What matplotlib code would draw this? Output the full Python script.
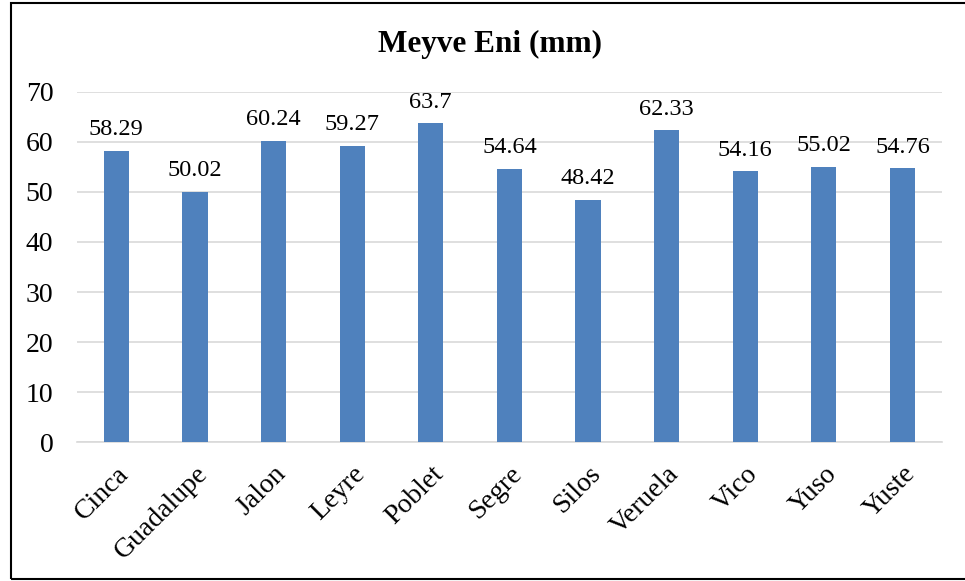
import matplotlib.pyplot as plt
import numpy as np
from matplotlib.patches import Rectangle

plt.rcParams["font.family"] = ["Liberation Serif", "DejaVu Serif"]

categories = ["Cinca", "Guadalupe", "Jalon", "Leyre", "Poblet", "Segre",
              "Silos", "Veruela", "Vico", "Yuso", "Yuste"]
values = [58.29, 50.02, 60.24, 59.27, 63.7, 54.64, 48.42, 62.33, 54.16, 55.02, 54.76]
labels = ["58.29", "50.02", "60.24", "59.27", "63.7", "54.64",
          "48.42", "62.33", "54.16", "55.02", "54.76"]

fig = plt.figure(figsize=(9.65, 5.81), dpi=100)
ax = fig.add_axes([0.0798, 0.2392, 0.8962, 0.6025])

x = np.arange(len(categories))
ax.bar(x, values, width=0.32, color="#4F81BD", zorder=3)
for xi, v, lab in zip(x, values, labels):
    ax.annotate(lab, (xi, v), xytext=(0, 7.5), textcoords="offset points",
                ha="center", va="bottom", fontsize=17.5)

ax.set_xlim(-0.5, len(categories) - 0.5)
ax.set_ylim(0, 70)
ax.set_yticks(np.arange(0, 71, 10))
ax.yaxis.grid(True, color="#D9D9D9", linewidth=1.2, zorder=0)
ax.set_xticks(x)
ax.set_xticklabels(categories, rotation=45, ha="right", rotation_mode="anchor")
ax.tick_params(axis="both", length=0, labelsize=20)
ax.tick_params(axis="x", pad=14)
ax.tick_params(axis="y", pad=17)
for s in ["top", "right", "left"]:
    ax.spines[s].set_visible(False)
ax.spines["bottom"].set_color("#D9D9D9")
ax.spines["bottom"].set_linewidth(1.2)

fig.text(0.508, 0.924, "Meyve Eni (mm)", ha="center", va="center",
         fontsize=22.5, fontweight="bold")

fig.patches.append(Rectangle((0.011, 0.004), 1.2, 0.99, transform=fig.transFigure,
                             fill=False, edgecolor="black", linewidth=1.5))

fig.savefig("out.png", dpi=100)
